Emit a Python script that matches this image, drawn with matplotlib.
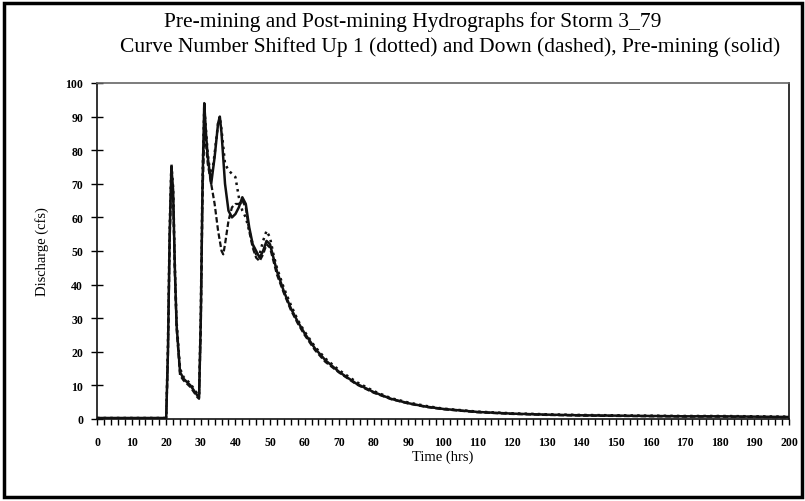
import matplotlib
matplotlib.use("Agg")
import matplotlib.pyplot as plt
from matplotlib.patches import Rectangle
from matplotlib.ticker import MultipleLocator

time_pre = [0, 20, 20.5, 21, 21.5, 22, 22.5, 23, 24, 25, 26, 27, 28, 29, 29.5,
            30, 30.5, 31, 31.5, 32, 33, 34, 35, 35.5, 36, 37, 38, 39, 40, 41,
            42, 43, 44, 45, 46, 47, 48, 49, 50, 51, 52, 54, 56, 58, 60, 63,
            66, 70, 75, 80, 85, 90, 95, 100, 110, 120, 130, 140, 150, 160,
            170, 180, 190, 200]
q_pre = [0.3, 0.3, 20, 55, 75, 68, 45, 28, 14, 12, 11, 10, 8.5, 7, 6.5,
         30, 70, 94, 85, 78, 70, 78, 88, 90, 85, 70, 62, 60, 61, 63,
         66, 64, 57, 52, 50, 48, 50, 53, 52, 48, 44, 38, 33, 29, 25.5, 21,
         17.5, 14, 10.5, 8, 6, 4.7, 3.7, 3.0, 2.1, 1.6, 1.3, 1.1, 1.0, 0.9,
         0.8, 0.8, 0.7, 0.6]

time_up = [0, 20, 20.5, 21, 21.5, 22, 22.5, 23, 24, 25, 26, 27, 28, 29, 29.5,
           30, 30.5, 31, 31.5, 32, 33, 34, 35, 35.5, 36, 37, 38, 39, 40, 41,
           42, 43, 44, 45, 46, 47, 48, 49, 50, 51, 52, 54, 56, 58, 60, 63,
           66, 70, 75, 80, 85, 90, 95, 100, 110, 120, 130, 140, 150, 160,
           170, 180, 190, 200]
q_up = [0.3, 0.3, 22, 57, 76, 69, 46, 29, 15, 12.5, 11.5, 10.5, 9, 7.5, 7,
        32, 72, 93, 86, 79, 71, 79, 88, 90, 86, 76, 74, 73, 72, 66,
        62, 60, 56, 52, 49, 49, 53, 56, 54, 49, 45, 39, 34, 29.5, 26, 21.5,
        18, 14.5, 11, 8.3, 6.2, 4.9, 3.9, 3.1, 2.2, 1.7, 1.4, 1.2, 1.1, 1.0,
        0.9, 0.9, 0.8, 0.7]

time_down = [0, 20, 20.5, 21, 21.5, 22, 22.5, 23, 24, 25, 26, 27, 28, 29, 29.5,
             30, 30.5, 31, 31.5, 32, 33, 34, 35, 36, 36.5, 37, 38, 39, 40, 41,
             42, 43, 44, 45, 46, 47, 48, 49, 50, 51, 52, 54, 56, 58, 60, 63,
             66, 70, 75, 80, 85, 90, 95, 100, 110, 120, 130, 140, 150, 160,
             170, 180, 190, 200]
q_down = [0.2, 0.2, 18, 52, 73, 66, 43, 27, 13, 11.5, 10.5, 9.5, 8, 6.5, 6,
          27, 66, 85, 82, 76, 70, 64, 56, 50, 49, 52, 59, 63, 64, 64,
          65, 63, 56, 51, 48, 47, 49, 52, 51, 47, 43, 37.5, 32.5, 28.5, 25, 20.5,
          17, 13.8, 10.3, 7.8, 5.9, 4.6, 3.6, 2.9, 2.0, 1.5, 1.2, 1.0, 0.9, 0.8,
          0.7, 0.7, 0.6, 0.5]

title_1 = "Pre-mining and Post-mining Hydrographs for Storm 3_79"
title_2 = "Curve Number Shifted Up 1 (dotted) and Down (dashed), Pre-mining (solid)"

plt.rcParams['font.family'] = ['Liberation Serif', 'DejaVu Serif']

fig = plt.figure(figsize=(8.05, 5.02), dpi=100)
ax = fig.add_axes([97 / 805, 1 - 420 / 502, 692 / 805, 336 / 502])

# --- curves ---
ax.plot(time_pre, q_pre, color='#111111', lw=1.8, ls='-')
ax.plot(time_up, q_up, color='#111111', lw=1.8, ls=':')
ax.plot(time_down, q_down, color='#111111', lw=1.6, ls=(0, (2.5, 1.2)))

# --- axes formatting ---
ax.set_xlim(0, 200)
ax.set_ylim(0, 100)
ax.xaxis.set_major_locator(MultipleLocator(10))
ax.xaxis.set_minor_locator(MultipleLocator(2))
ax.yaxis.set_major_locator(MultipleLocator(10))
ax.tick_params(axis='x', which='both', direction='out', length=4, width=1,
               labelsize=8.5, pad=8)
ax.tick_params(axis='y', which='major', direction='inout', length=8, width=1,
               labelsize=8.5, pad=6)
for lbl in ax.get_xticklabels() + ax.get_yticklabels():
    lbl.set_fontweight('bold')

for side in ['left', 'bottom', 'right']:
    ax.spines[side].set_color('#111111')
    ax.spines[side].set_linewidth(1.2)
ax.spines['top'].set_color('#666666')
ax.spines['top'].set_linewidth(1.2)

ax.set_xlabel('Time (hrs)', fontsize=10.5, labelpad=1)
ax.set_ylabel('Discharge (cfs)', fontsize=10.5, labelpad=12)

fig.text(413 / 805, 1 - 22 / 502, title_1, ha='center', va='center', fontsize=15.5)
fig.text(450 / 805, 1 - 47 / 502, title_2, ha='center', va='center', fontsize=15.5)

# outer frame of the scanned figure
fig.patches.append(Rectangle((4 / 805, 4 / 502), 798 / 805, 494 / 502,
                             transform=fig.transFigure, fill=False,
                             edgecolor='black', lw=2.5))

fig.savefig('out.png', dpi=100)
